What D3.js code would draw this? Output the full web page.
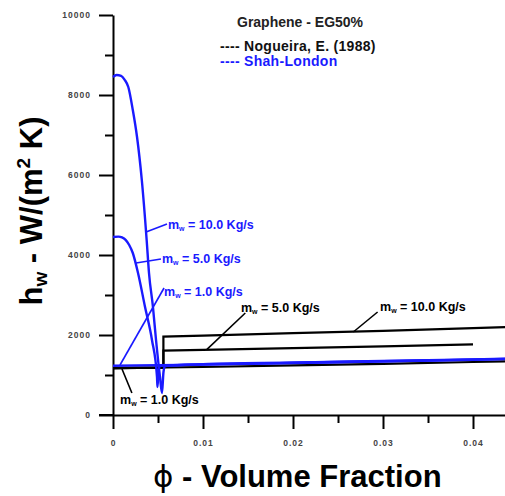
<!DOCTYPE html>
<html><head><meta charset="utf-8">
<script src="https://cdn.jsdelivr.net/npm/d3@7"></script>
<style>
html,body{margin:0;padding:0;background:#fff;}
svg{display:block;font-family:"Liberation Sans",Arial,sans-serif;}
</style></head>
<body>
<svg id="chart" width="505" height="496"></svg>
<script>
// ---------- data ----------
const xMajorTicks = [0, 0.01, 0.02, 0.03, 0.04];
const xMinorTicks = [0.005, 0.015, 0.025, 0.035];
const yMajorTicks = [0, 2000, 4000, 6000, 8000, 10000];
const yMinorTicks = [1000, 3000, 5000, 7000, 9000];

// Shah-London (blue)
const shah10Phi = [0, 0.0004, 0.0009, 0.0013, 0.0017, 0.0022, 0.00267, 0.0032, 0.00374, 0.004, 0.00444, 0.00478, 0.00522, 0.00544, 0.00561, 0.00578, 0.01, 0.02, 0.03, 0.04, 0.044];
const shah10H   = [8450, 8500, 8480, 8380, 8200, 7625, 6950, 5875, 4375, 3550, 2700, 1875, 950, 550, 1075, 1225, 1270, 1310, 1350, 1390, 1410];
const shah5Phi  = [0, 0.0006, 0.001, 0.0014, 0.0018, 0.0022, 0.00278, 0.00356, 0.00433, 0.00489, 0.00494, 0.00506, 0.0052, 0.01, 0.02, 0.03, 0.04, 0.044];
const shah5H    = [4450, 4460, 4440, 4380, 4250, 4050, 3550, 2700, 1875, 950, 700, 1075, 1230, 1265, 1305, 1345, 1385, 1405];
const shah1Phi  = [0, 0.01, 0.02, 0.03, 0.04, 0.044];
const shah1H    = [1230, 1260, 1300, 1340, 1380, 1400];

// Nogueira (black)
const nog10Phi = [0, 0.0056, 0.0056, 0.01, 0.02, 0.03, 0.04, 0.044];
const nog10H   = [1170, 1185, 1960, 1985, 2045, 2105, 2170, 2200];
const nog5Phi  = [0, 0.0056, 0.0056, 0.01, 0.02, 0.03, 0.04];
const nog5H    = [1170, 1185, 1610, 1630, 1670, 1715, 1765];
const nog1Phi  = [0, 0.01, 0.02, 0.03, 0.04, 0.044];
const nog1H    = [1170, 1200, 1240, 1280, 1325, 1345];

// annotation labels: text value, label anchor (phi,h), leader from (phi,h) to (phi,h)
const annLabels  = ["10.0", "5.0", "1.0", "5.0", "10.0", "1.0"];
const annColors  = ["blue", "blue", "blue", "black", "black", "black"];
const annLabelAt = [[0.00611, 4650], [0.00544, 3800], [0.00567, 2975], [0.01422, 2575], [0.02967, 2600], [0.00078, 275]];
const annLeadFrom= [[0.00367, 4575], [0.00256, 3800], [0.00078, 1250], [0.01044, 1640], [0.0267, 2075], [0.001, 1150]];
const annLeadTo  = [[0.006, 4775], [0.00533, 3900], [0.00567, 3175], [0.0147, 2550], [0.0294, 2575], [0.0021, 550]];

const BLUE = "#1a1aff";

// ---------- scales ----------
const svg = d3.select("#chart");
svg.append("rect").attr("width", 505).attr("height", 496).attr("fill", "#fff");
const x = d3.scaleLinear().domain([0, 0.044]).range([113, 509]);
const y = d3.scaleLinear().domain([0, 10000]).range([415, 15]);

// ---------- axes ----------
function styleAxis(g) {
  g.selectAll("path.domain").attr("stroke", "#000").attr("stroke-width", 2);
  g.selectAll(".tick line").attr("stroke", "#000").attr("stroke-width", 2);
  g.selectAll(".tick text").attr("font-family", "'Liberation Sans', Arial, sans-serif")
    .attr("font-weight", "bold").attr("font-size", 8.5).attr("letter-spacing", 1).attr("fill", "#444");
}
const yAxisG = svg.append("g").attr("transform", `translate(${x(0)},0)`)
  .call(d3.axisLeft(y).tickValues(yMajorTicks).tickSize(14).tickSizeOuter(0).tickPadding(8).tickFormat(d3.format("d")));
styleAxis(yAxisG);
const yMinorG = svg.append("g").attr("transform", `translate(${x(0)},0)`)
  .call(d3.axisLeft(y).tickValues(yMinorTicks).tickSize(8).tickSizeOuter(0).tickFormat(""));
styleAxis(yMinorG);
yMinorG.select("path.domain").remove();

const xAxisG = svg.append("g").attr("transform", `translate(0,${y(0)})`)
  .call(d3.axisBottom(x).tickValues(xMajorTicks).tickSize(14).tickSizeOuter(0).tickPadding(11)
    .tickFormat(d => d === 0 ? "0" : d3.format(".2f")(d)));
styleAxis(xAxisG);
const xMinorG = svg.append("g").attr("transform", `translate(0,${y(0)})`)
  .call(d3.axisBottom(x).tickValues(xMinorTicks).tickSize(8).tickSizeOuter(0).tickFormat(""));
styleAxis(xMinorG);
xMinorG.select("path.domain").remove();
// extend x axis line left to meet y 0 tick
svg.append("line").attr("x1", x(0) - 14).attr("x2", x(0)).attr("y1", y(0)).attr("y2", y(0))
  .attr("stroke", "#000").attr("stroke-width", 2);

// ---------- curves ----------
const zip = (a, b) => a.map((v, i) => [v, b[i]]);
const lineLin = d3.line().x(d => x(d[0])).y(d => y(d[1]));
const lineSmooth = d3.line().x(d => x(d[0])).y(d => y(d[1])).curve(d3.curveMonotoneX);

const blackSeries = [zip(nog1Phi, nog1H), zip(nog5Phi, nog5H), zip(nog10Phi, nog10H)];
const blueSeries = [zip(shah1Phi, shah1H), zip(shah5Phi, shah5H), zip(shah10Phi, shah10H)];

svg.append("g").selectAll("path").data(blackSeries).join("path")
  .attr("d", lineLin).attr("fill", "none").attr("stroke", "#000").attr("stroke-width", 2.2);
svg.append("g").selectAll("path").data(blueSeries).join("path")
  .attr("d", lineSmooth).attr("fill", "none").attr("stroke", BLUE).attr("stroke-width", 2.4);

// ---------- annotations ----------
const annG = svg.append("g");
annLabels.forEach((lab, i) => {
  const col = annColors[i] === "blue" ? BLUE : "#000";
  annG.append("line")
    .attr("x1", x(annLeadFrom[i][0])).attr("y1", y(annLeadFrom[i][1]))
    .attr("x2", x(annLeadTo[i][0])).attr("y2", y(annLeadTo[i][1]))
    .attr("stroke", col).attr("stroke-width", 1.6);
  const t = annG.append("text")
    .attr("x", x(annLabelAt[i][0])).attr("y", y(annLabelAt[i][1]))
    .attr("fill", col).attr("font-weight", "bold").attr("font-size", 12.5);
  t.append("tspan").text("m");
  t.append("tspan").attr("font-size", 7).attr("dy", 2).text("w");
  t.append("tspan").attr("dy", -2).text(` = ${lab} Kg/s`);
});

// ---------- legend ----------
svg.append("text").attr("x", 237).attr("y", 27).attr("font-weight", "bold").attr("font-size", 14)
  .attr("fill", "#222").text("Graphene - EG50%");
svg.append("text").attr("x", 220).attr("y", 51).attr("font-weight", "bold").attr("font-size", 14)
  .attr("letter-spacing", 0.3).attr("fill", "#111").text("---- Nogueira, E. (1988)");
svg.append("text").attr("x", 220).attr("y", 66).attr("font-weight", "bold").attr("font-size", 14)
  .attr("letter-spacing", 0.3).attr("fill", BLUE).text("---- Shah-London");

// ---------- axis titles ----------
const xt = svg.append("text").attr("x", 153).attr("y", 487).attr("font-size", 31).attr("fill", "#000");
xt.append("tspan").attr("font-family", "'DejaVu Sans', sans-serif").attr("font-weight", "normal").text("\u03D5");
xt.append("tspan").attr("font-weight", "bold").text(" - Volume Fraction");

const yt = svg.append("text").attr("transform", "translate(42,211) rotate(-90)")
  .attr("text-anchor", "middle").attr("font-size", 31).attr("font-weight", "bold").attr("fill", "#000");
yt.append("tspan").text("h");
yt.append("tspan").attr("font-size", 19).attr("dy", 5).text("w");
yt.append("tspan").attr("dy", -5).text(" - W/(m");
yt.append("tspan").attr("font-size", 19).attr("dy", -12).text("2");
yt.append("tspan").attr("dy", 12).text(" K)");
</script>
</body></html>
